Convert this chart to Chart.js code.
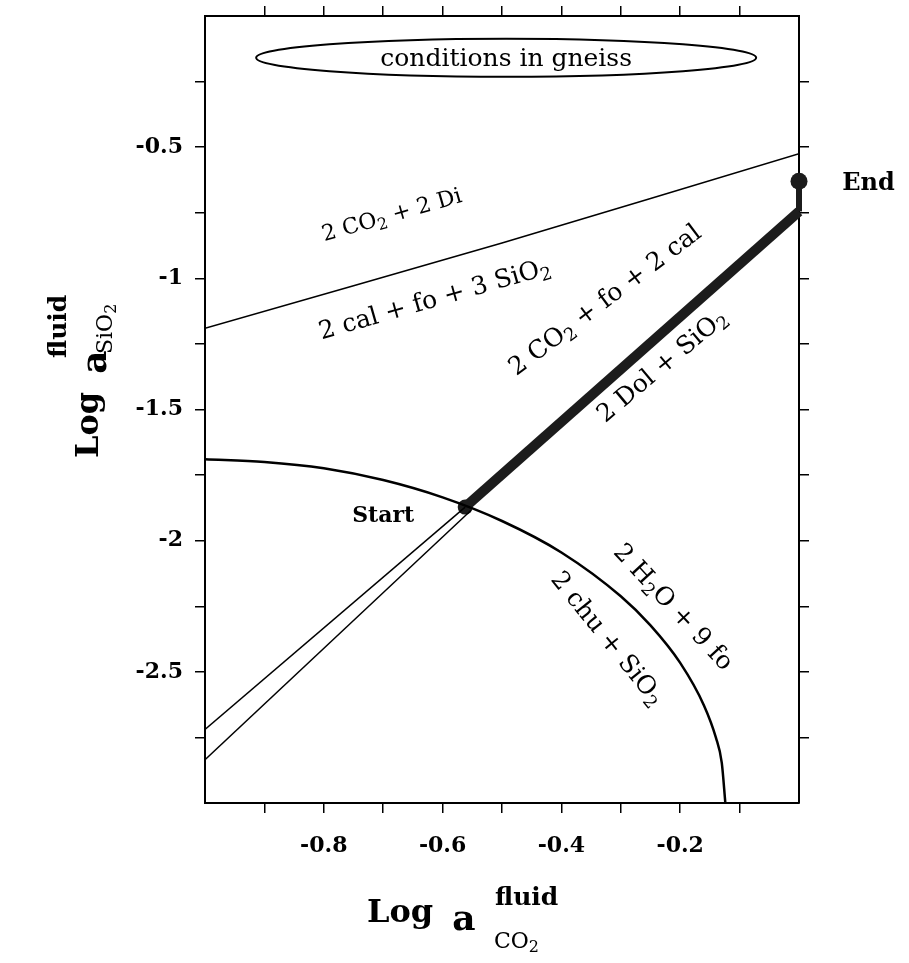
<!DOCTYPE html>
<html>
<head>
<meta charset="utf-8">
<script src="https://cdn.jsdelivr.net/npm/chart.js@4.4.0/dist/chart.umd.min.js"></script>
<style>
  html, body { margin: 0; padding: 0; background: #fff; }
</style>
</head>
<body>
<canvas id="c" width="909" height="963"></canvas>
<script>
// ticks that carry a label
const xLabelTicks = [-0.8, -0.6, -0.4, -0.2];
const yLabelTicks = [-0.5, -1, -1.5, -2, -2.5];

// chu / fo reaction boundary (curved)
const chuX = [-1.0, -0.9, -0.8, -0.7, -0.6, -0.5, -0.4, -0.3, -0.25, -0.2, -0.16, -0.14, -0.13, -0.124];
const chuY = [-1.69, -1.70, -1.724, -1.769, -1.835, -1.925, -2.045, -2.212, -2.323, -2.466, -2.628, -2.75, -2.847, -3.0];

// 2 CO2 + 2 Di = 2 cal + fo + 3 SiO2
const diX = [-1.0, -0.5, 0.0];
const diY = [-1.19, -0.865, -0.525];

// two thin lines running into Start
const upperX = [-1.0, -0.562];
const upperY = [-2.72, -1.872];
const lowerX = [-1.0, -0.552];
const lowerY = [-2.835, -1.884];

// fluid path Start -> End
const pathX = [-0.562, 0.0];
const pathY = [-1.872, -0.745];
const stubX = [0.0, 0.0];
const stubY = [-0.745, -0.63];
const startPt = [-0.562, -1.872];
const endPt = [0.0, -0.63];

const pts = (xs, ys) => xs.map((v, i) => ({ x: v, y: ys[i] }));

const SERIF = '"DejaVu Serif", "Liberation Serif", serif';

// draw text with "_2" style subscripts, centred on (0,0) of current transform
function richText(ctx, str, size, weight, align) {
  const parts = str.split(/(_\d)/).filter(Boolean).map(p =>
    p[0] === '_' ? { t: p.slice(1), sub: true } : { t: p, sub: false });
  const main = `${weight} ${size}px ${SERIF}`;
  const sub = `${weight} ${Math.round(size * 0.72)}px ${SERIF}`;
  let w = 0;
  parts.forEach(p => { ctx.font = p.sub ? sub : main; p.w = ctx.measureText(p.t).width; w += p.w; });
  let cx = align === 'left' ? 0 : -w / 2;
  ctx.textAlign = 'left';
  ctx.textBaseline = 'alphabetic';
  parts.forEach(p => {
    ctx.font = p.sub ? sub : main;
    ctx.fillText(p.t, cx, p.sub ? size * 0.55 : size * 0.35);
    cx += p.w;
  });
}

const notes = [
  { t: '2 CO_2 + 2 Di', x: -0.686, y: -0.755, r: -16, s: 22, w: 'normal' },
  { t: '2 cal + fo + 3 SiO_2', x: -0.614, y: -1.075, r: -16, s: 25, w: 'normal' },
  { t: '2 CO_2 + fo + 2 cal', x: -0.328, y: -1.079, r: -37, s: 25, w: 'normal' },
  { t: '2 Dol + SiO_2', x: -0.232, y: -1.33, r: -40, s: 25, w: 'normal' },
  { t: '2 H_2O + 9 fo', x: -0.21, y: -2.25, r: 47, s: 25, w: 'normal' },
  { t: '2 chu + SiO_2', x: -0.321, y: -2.37, r: 51, s: 25, w: 'normal' },
  { t: 'Start', x: -0.70, y: -1.898, r: 0, s: 22, w: 'bold' },
  { t: 'End', x: 0.117, y: -0.63, r: 0, s: 24, w: 'bold' }
];

const notePlugin = {
  id: 'notes',
  afterDraw(chart) {
    const { ctx, chartArea: a, scales: { x, y } } = chart;
    ctx.save();
    ctx.fillStyle = '#000';

    notes.forEach(n => {
      ctx.save();
      ctx.translate(x.getPixelForValue(n.x), y.getPixelForValue(n.y));
      ctx.rotate(n.r * Math.PI / 180);
      richText(ctx, n.t, n.s, n.w);
      ctx.restore();
    });

    // "conditions in gneiss" ellipse
    const ex = x.getPixelForValue(-0.493), ey = y.getPixelForValue(-0.159);
    ctx.beginPath();
    ctx.ellipse(ex, ey, 250, 19, 0, 0, Math.PI * 2);
    ctx.lineWidth = 2;
    ctx.strokeStyle = '#000';
    ctx.stroke();
    ctx.save();
    ctx.translate(ex, ey);
    richText(ctx, 'conditions in gneiss', 25, 'normal');
    ctx.restore();

    // x axis title
    const mx = (a.left + a.right) / 2, b = a.bottom;
    ctx.textAlign = 'center';
    ctx.textBaseline = 'alphabetic';
    ctx.font = `bold 32px ${SERIF}`;
    ctx.fillText('Log', mx - 102, b + 119);
    ctx.font = `bold 36px ${SERIF}`;
    ctx.fillText('a', mx - 38, b + 127);
    ctx.font = `bold 25px ${SERIF}`;
    ctx.textAlign = 'left';
    ctx.fillText('fluid', mx - 7, b + 102);
    ctx.save();
    ctx.translate(mx - 8, b + 145 - 22 * 0.35);
    richText(ctx, 'CO_2', 22, 'normal', 'left');
    ctx.restore();

    // y axis title (rotated)
    ctx.save();
    ctx.rotate(-Math.PI / 2);
    ctx.textAlign = 'center';
    ctx.font = `bold 32px ${SERIF}`;
    ctx.fillText('Log', -425, 98);
    ctx.font = `bold 36px ${SERIF}`;
    ctx.fillText('a', -362, 106);
    ctx.textAlign = 'left';
    ctx.font = `bold 25px ${SERIF}`;
    ctx.fillText('fluid', -358, 66);
    ctx.translate(-354, 112 - 22 * 0.35);
    richText(ctx, 'SiO_2', 22, 'normal', 'left');
    ctx.restore();

    ctx.restore();
  }
};

const edgeless = (lo, hi) => c =>
  (c.tick && (Math.abs(c.tick.value - lo) < 1e-6 || Math.abs(c.tick.value - hi) < 1e-6)) ? 'rgba(0,0,0,0)' : '#000';

const tickFont = { family: SERIF, size: 22, weight: 'bold' };

const noPad = s => { s.paddingTop = 0; s.paddingBottom = 0; s.paddingLeft = 0; s.paddingRight = 0; };

new Chart(document.getElementById('c'), {
  type: 'scatter',
  data: {
    datasets: [
      { data: pts(diX, diY), showLine: true, borderColor: '#000', borderWidth: 1.5, pointRadius: 0, tension: 0.3 },
      { data: pts(chuX, chuY), showLine: true, borderColor: '#000', borderWidth: 2.5, pointRadius: 0, cubicInterpolationMode: 'monotone' },
      { data: pts(upperX, upperY), showLine: true, borderColor: '#000', borderWidth: 1.5, pointRadius: 0 },
      { data: pts(lowerX, lowerY), showLine: true, borderColor: '#000', borderWidth: 1.5, pointRadius: 0 },
      { data: pts(pathX, pathY), showLine: true, borderColor: '#1c1c1c', borderWidth: 10, pointRadius: 0, clip: false },
      { data: pts(stubX, stubY), showLine: true, borderColor: '#1c1c1c', borderWidth: 6, pointRadius: 0, clip: false },
      { data: [{ x: startPt[0], y: startPt[1] }], pointRadius: 7.5, pointBackgroundColor: '#1c1c1c', pointBorderWidth: 0, clip: false },
      { data: [{ x: endPt[0], y: endPt[1] }], pointRadius: 8.5, pointBackgroundColor: '#1c1c1c', pointBorderWidth: 0, clip: false }
    ]
  },
  options: {
    responsive: false,
    animation: false,
    devicePixelRatio: 1,
    layout: { padding: 0 },
    plugins: { legend: { display: false }, tooltip: { enabled: false } },
    scales: {
      x: {
        type: 'linear', position: 'bottom', min: -1, max: 0,
        ticks: {
          stepSize: 0.1, autoSkip: false, maxRotation: 0, color: '#000', font: tickFont, padding: 20,
          callback: v => { const r = Math.round(v * 10) / 10; return xLabelTicks.includes(r) ? r.toFixed(1) : ''; }
        },
        grid: { drawOnChartArea: false, drawTicks: true, tickLength: 10, lineWidth: 1.5, color: edgeless(-1, 0) },
        border: { display: true, color: '#000', width: 2 },
        afterFit: s => { s.height = 160; noPad(s); }
      },
      x2: {
        type: 'linear', position: 'top', min: -1, max: 0,
        ticks: { stepSize: 0.1, autoSkip: false, display: false },
        grid: { drawOnChartArea: false, drawTicks: true, tickLength: 10, lineWidth: 1.5, color: edgeless(-1, 0) },
        border: { display: true, color: '#000', width: 2 },
        afterFit: s => { s.height = 16; noPad(s); }
      },
      y: {
        type: 'linear', position: 'left', min: -3, max: 0,
        ticks: {
          stepSize: 0.25, autoSkip: false, color: '#000', font: tickFont, padding: 12,
          callback: v => { const r = Math.round(v * 4) / 4; return yLabelTicks.includes(r) ? String(r) : ''; }
        },
        grid: { drawOnChartArea: false, drawTicks: true, tickLength: 10, lineWidth: 1.5, color: edgeless(-3, 0) },
        border: { display: true, color: '#000', width: 2 },
        afterFit: s => { s.width = 205; noPad(s); }
      },
      y2: {
        type: 'linear', position: 'right', min: -3, max: 0,
        ticks: { stepSize: 0.25, autoSkip: false, display: false },
        grid: { drawOnChartArea: false, drawTicks: true, tickLength: 10, lineWidth: 1.5, color: edgeless(-3, 0) },
        border: { display: true, color: '#000', width: 2 },
        afterFit: s => { s.width = 110; noPad(s); }
      }
    }
  },
  plugins: [notePlugin]
});
</script>
</body>
</html>
